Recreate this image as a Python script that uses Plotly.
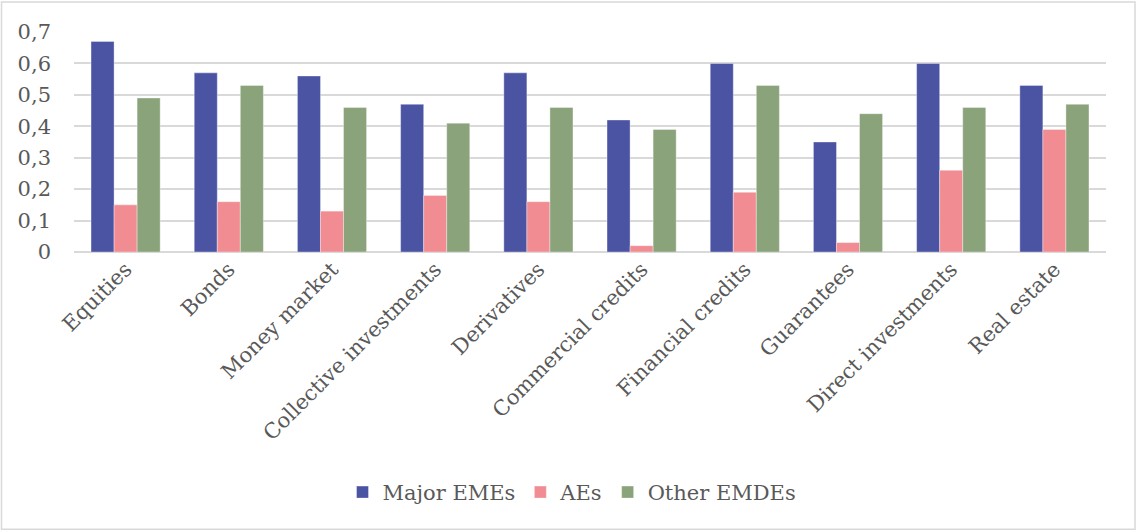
import plotly.graph_objects as go

categories = ["Equities", "Bonds", "Money market", "Collective investments", "Derivatives",
              "Commercial credits", "Financial credits", "Guarantees", "Direct investments", "Real estate"]
major_emes = [0.67, 0.57, 0.56, 0.47, 0.57, 0.42, 0.60, 0.35, 0.60, 0.53]
aes = [0.15, 0.16, 0.13, 0.18, 0.16, 0.02, 0.19, 0.03, 0.26, 0.39]
other_emdes = [0.49, 0.53, 0.46, 0.41, 0.46, 0.39, 0.53, 0.44, 0.46, 0.47]
y_ticks = [0, 0.1, 0.2, 0.3, 0.4, 0.5, 0.6, 0.7]
y_tick_labels = ["0", "0,1", "0,2", "0,3", "0,4", "0,5", "0,6", "0,7"]

FONT = "DejaVu Serif"
TXT = "#595959"

fig = go.Figure()
for name, vals, col in [("Major EMEs", major_emes, "#4B53A3"),
                        ("AEs", aes, "#F08C92"),
                        ("Other EMDEs", other_emdes, "#8AA37A")]:
    fig.add_trace(go.Bar(x=categories, y=vals, name=name,
                         marker=dict(color=col, line=dict(color="rgba(255,255,255,0.6)", width=0.6))))

# plot area: x 74..1106, y 31.5..252
L, R, T, B = 74, 1106, 31.5, 252
W, H = R - L, B - T

def px_to_paper_x(px):
    return (px - L) / W

def px_to_paper_y(py):
    return (B - py) / H

fig.update_layout(
    width=1140, height=532,
    margin=dict(l=L, r=1140 - R, t=T, b=532 - B, autoexpand=False),
    paper_bgcolor="white", plot_bgcolor="white",
    barmode="group", bargap=0.33, bargroupgap=0,
    font=dict(family=FONT, color=TXT),
    showlegend=True,
    legend=dict(orientation="h", x=px_to_paper_x(572), xanchor="center",
                y=px_to_paper_y(493), yanchor="middle",
                font=dict(family=FONT, size=21, color=TXT),
                itemwidth=30, tracegroupgap=0),
    xaxis=dict(tickangle=-45, tickfont=dict(family=FONT, size=21, color=TXT),
               showgrid=False, showline=False, ticks=""),
    yaxis=dict(range=[0, 0.7], tickvals=y_ticks, ticktext=y_tick_labels,
               tickfont=dict(family=FONT, size=21, color=TXT),
               showgrid=True, gridcolor="#D9D9D9", gridwidth=1.5,
               zeroline=True, zerolinecolor="#D9D9D9", zerolinewidth=1.5,
               ticks="", ticklabelstandoff=22, showline=False),
    shapes=[dict(type="rect", xref="paper", yref="paper",
                 x0=px_to_paper_x(1.5), x1=px_to_paper_x(1135),
                 y0=px_to_paper_y(530), y1=px_to_paper_y(1.5),
                 line=dict(color="#D9D9D9", width=1.5), fillcolor="rgba(0,0,0,0)",
                 layer="below")],
)

fig.write_html("out.html")
